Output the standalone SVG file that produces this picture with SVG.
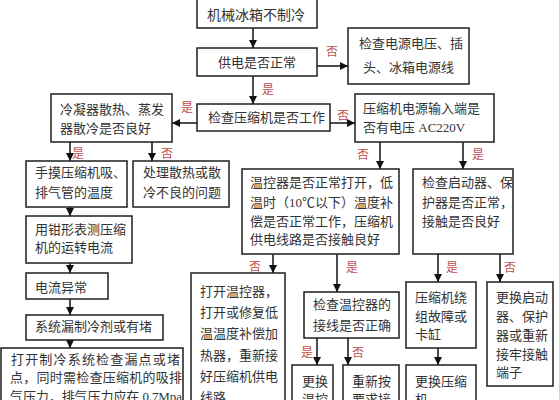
<svg xmlns="http://www.w3.org/2000/svg" width="559" height="400" viewBox="0 0 559 400">
<style>
.b{fill:#fff;stroke:#1e1e1e;stroke-width:1.5}
.t{font-family:"Liberation Serif","Noto Sans CJK SC",serif;font-size:13px;fill:#333}
.l{font-family:"Liberation Serif","Noto Sans CJK SC",serif;font-size:12px;fill:#c0504d;text-anchor:middle}
.c{stroke:#111;stroke-width:1.5;fill:none;marker-end:url(#ah)}
</style>
<defs>
<marker id="ah" markerUnits="userSpaceOnUse" markerWidth="8" markerHeight="8" viewBox="0 0 10 10" refX="10" refY="5" orient="auto">
<path d="M0,0 L10,5 L0,10 z" fill="#111"/>
</marker>
</defs>
<rect width="559" height="400" fill="#fff"/>
<g id="connectors">
<line class="c" x1="253" y1="28" x2="253" y2="48"/>
<line class="c" x1="317" y1="66" x2="348" y2="66"/>
<line class="c" x1="253" y1="76" x2="253" y2="104"/>
<line class="c" x1="330" y1="123" x2="355" y2="123"/>
<line class="c" x1="197" y1="123" x2="172" y2="123"/>
<line class="c" x1="70" y1="142" x2="70" y2="161"/>
<line class="c" x1="152" y1="142" x2="152" y2="161"/>
<line class="c" x1="70" y1="207" x2="70" y2="216"/>
<line class="c" x1="70" y1="263" x2="70" y2="273"/>
<line class="c" x1="70" y1="299" x2="70" y2="315"/>
<line class="c" x1="70" y1="340" x2="70" y2="348"/>
<line class="c" x1="380" y1="142" x2="380" y2="169"/>
<line class="c" x1="463" y1="142" x2="463" y2="169"/>
<line class="c" x1="273" y1="254" x2="273" y2="273"/>
<line class="c" x1="337" y1="254" x2="337" y2="292"/>
<line class="c" x1="438" y1="254" x2="438" y2="282"/>
<line class="c" x1="500" y1="254" x2="500" y2="282"/>
<line class="c" x1="317" y1="338" x2="317" y2="365"/>
<line class="c" x1="348" y1="338" x2="348" y2="365"/>
<line class="c" x1="438" y1="348" x2="438" y2="365"/>
<text class="l" x="332" y="56">否</text>
<text class="l" x="268" y="94">是</text>
<text class="l" x="187" y="112">是</text>
<text class="l" x="343" y="120">否</text>
<text class="l" x="78" y="158">是</text>
<text class="l" x="167" y="158">否</text>
<text class="l" x="363" y="159">否</text>
<text class="l" x="478" y="159">是</text>
<text class="l" x="255" y="271">否</text>
<text class="l" x="352" y="272">是</text>
<text class="l" x="452" y="272">是</text>
<text class="l" x="510" y="272">否</text>
<text class="l" x="307" y="357">是</text>
<text class="l" x="358" y="357">否</text>
</g>
<g id="n1"><rect class="b" x="197" y="-2" width="120" height="30"/><text class="t" x="207" y="20" style="font-size:14px">机械冰箱不制冷</text></g>
<g id="n2"><rect class="b" x="197" y="48" width="120" height="28"/><text class="t" x="218" y="67">供电是否正常</text></g>
<g id="n3"><rect class="b" x="348" y="28" width="121" height="56"/><text class="t" x="359" y="48">检查电源电压、插</text><text class="t" x="363" y="72">头、冰箱电源线</text></g>
<g id="n4"><rect class="b" x="197" y="104" width="133" height="27"/><text class="t" x="208" y="122">检查压缩机是否工作</text></g>
<g id="n5"><rect class="b" x="355" y="94" width="139" height="48"/><text class="t" x="363" y="113">压缩机电源输入端是</text><text class="t" x="363" y="132">否有电压 AC220V</text></g>
<g id="n6"><rect class="b" x="51" y="94" width="121" height="48"/><text class="t" x="60" y="114">冷凝器散热、蒸发</text><text class="t" x="60" y="133">器散冷是否良好</text></g>
<g id="n7"><rect class="b" x="26" y="161" width="101" height="46"/><text class="t" x="35" y="177">手摸压缩机吸、</text><text class="t" x="35" y="197">排气管的温度</text></g>
<g id="n8"><rect class="b" x="133" y="161" width="96" height="46"/><text class="t" x="143" y="177">处理散热或散</text><text class="t" x="143" y="197">冷不良的问题</text></g>
<g id="n9"><rect class="b" x="26" y="216" width="106" height="47"/><text class="t" x="35" y="234">用钳形表测压缩</text><text class="t" x="35" y="252">机的运转电流</text></g>
<g id="n10"><rect class="b" x="26" y="273" width="82" height="26"/><text class="t" x="35" y="292">电流异常</text></g>
<g id="n11"><rect class="b" x="26" y="315" width="137" height="25"/><text class="t" x="35" y="331">系统漏制冷剂或有堵</text></g>
<g id="n12"><rect class="b" x="1" y="348" width="182" height="60"/><text class="t" x="11" y="364" textLength="169">打开制冷系统检查漏点或堵</text><text class="t" x="10" y="382" textLength="172">点，同时需检查压缩机的吸排</text><text class="t" x="10" y="401" textLength="172">气压力，排气压力应在 0.7Mpa</text></g>
<g id="n13"><rect class="b" x="242" y="169" width="157" height="85"/><text class="t" x="250" y="187">温控器是否正常打开，低</text><text class="t" x="250" y="207">温时（10℃以下）温度补</text><text class="t" x="250" y="226">偿是否正常工作，压缩机</text><text class="t" x="250" y="244">供电线路是否接触良好</text></g>
<g id="n14"><rect class="b" x="413" y="169" width="100" height="85"/><text class="t" x="422" y="187">检查启动器、保</text><text class="t" x="422" y="207">护器是否正常，</text><text class="t" x="422" y="226">接触是否良好</text></g>
<g id="n15"><rect class="b" x="191" y="273" width="94" height="135"/><text class="t" x="200" y="296">打开温控器，</text><text class="t" x="200" y="317">打开或修复低</text><text class="t" x="200" y="338">温温度补偿加</text><text class="t" x="200" y="360">热器，重新接</text><text class="t" x="200" y="381">好压缩机供电</text><text class="t" x="200" y="402">线路</text></g>
<g id="n16"><rect class="b" x="304" y="292" width="95" height="46"/><text class="t" x="313" y="309">检查温控器的</text><text class="t" x="313" y="330">接线是否正确</text></g>
<g id="n17"><rect class="b" x="292" y="365" width="41" height="45"/><text class="t" x="302" y="386">更换</text><text class="t" x="302" y="404">温控</text></g>
<g id="n18"><rect class="b" x="343" y="365" width="56" height="45"/><text class="t" x="352" y="386">重新按</text><text class="t" x="352" y="404">要求接</text></g>
<g id="n19"><rect class="b" x="406" y="282" width="70" height="66"/><text class="t" x="415" y="302">压缩机绕</text><text class="t" x="415" y="321">组故障或</text><text class="t" x="415" y="339">卡缸</text></g>
<g id="n20"><rect class="b" x="487" y="282" width="66" height="104"/><text class="t" x="496" y="302">更换启动</text><text class="t" x="496" y="321">器、保护</text><text class="t" x="496" y="340">器或重新</text><text class="t" x="496" y="359">接牢接触</text><text class="t" x="496" y="377">端子</text></g>
<g id="n21"><rect class="b" x="406" y="365" width="70" height="45"/><text class="t" x="415" y="386">更换压缩</text><text class="t" x="415" y="404">机</text></g>
</svg>
